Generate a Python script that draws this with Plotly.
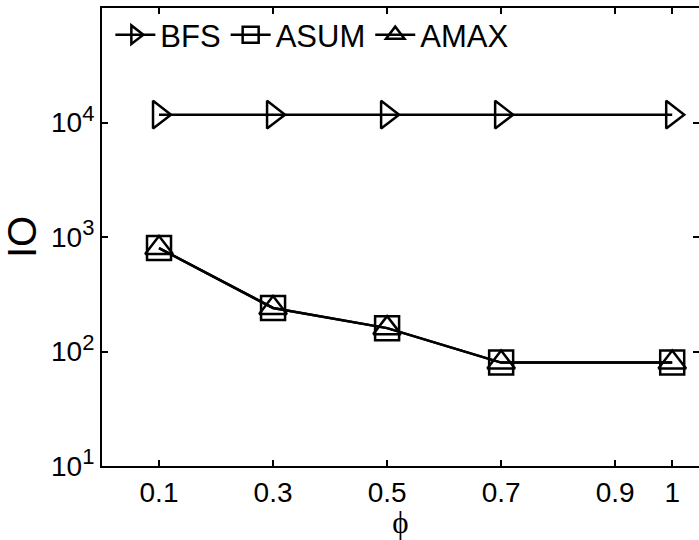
import plotly.graph_objects as go

# Data
phi = [0.1, 0.3, 0.5, 0.7, 1.0]
io_bfs = [11700, 11700, 11700, 11700, 11700]
io_asum = [800, 240, 160, 80, 80]
io_amax = [800, 240, 160, 80, 80]

x_tickvals = [0.1, 0.3, 0.5, 0.7, 0.9, 1.0]
x_ticktext = ["0.1", "0.3", "0.5", "0.7", "0.9", "1"]
y_tickvals = [10, 100, 1000, 10000]
y_exponents = ["1", "2", "3", "4"]

FONT = "Liberation Sans, Arial, sans-serif"
LW = 2.5
MS = 24

y_ticktext = ["10<sup><span style='font-size:22px'>%s</span></sup>" % e for e in y_exponents]

fig = go.Figure()

series = [
    ("BFS", io_bfs, "triangle-right-open"),
    ("ASUM", io_asum, "square-open"),
    ("AMAX", io_amax, "triangle-up-open"),
]
for name, vals, sym in series:
    fig.add_trace(go.Scatter(
        x=phi, y=vals, name=name, mode="lines+markers",
        line=dict(color="black", width=LW),
        marker=dict(symbol=sym, size=MS, color="black",
                    line=dict(color="black", width=LW)),
        cliponaxis=False,
    ))

# invisible trace carrying the right-hand tick axis
fig.add_trace(go.Scatter(
    x=phi, y=io_bfs, yaxis="y2", mode="lines",
    line=dict(width=0, color="rgba(0,0,0,0)"),
    showlegend=False, hoverinfo="skip",
))

fig.update_layout(
    width=699, height=540,
    margin=dict(l=102, r=0, t=8, b=74),
    paper_bgcolor="white", plot_bgcolor="white",
    font=dict(family=FONT, color="black", size=28),
    showlegend=True,
    legend=dict(
        orientation="h", x=0.014, y=1.0, xanchor="left", yanchor="top",
        font=dict(size=31, family=FONT), bgcolor="rgba(0,0,0,0)",
        borderwidth=0, itemwidth=40, tracegroupgap=0,
    ),
    xaxis=dict(
        range=[0, 1.047], tickvals=x_tickvals, ticktext=x_ticktext,
        ticks="inside", ticklen=6, tickwidth=1.5, tickcolor="black",
        showline=True, linecolor="black", linewidth=2, mirror="ticks",
        showgrid=False, zeroline=False,
        tickfont=dict(size=28, family=FONT),
        title=dict(text="\u03d5", font=dict(size=31, family="Liberation Serif, Times New Roman, serif"),
                   standoff=11),
    ),
    yaxis=dict(
        type="log", range=[1, 5], tickvals=y_tickvals, ticktext=y_ticktext,
        ticks="inside", ticklen=6, tickwidth=1.5, tickcolor="black",
        showline=True, linecolor="black", linewidth=2, mirror=False,
        showgrid=False, zeroline=False,
        tickfont=dict(size=28, family=FONT),
        title=dict(text="IO", font=dict(size=40, family=FONT), standoff=14),
    ),
    yaxis2=dict(
        type="log", range=[1, 5], tickvals=y_tickvals, overlaying="y", side="right",
        ticks="inside", ticklen=6, tickwidth=1.5, tickcolor="black",
        showticklabels=False, showline=False, showgrid=False, zeroline=False,
    ),
)

fig.write_html("out.html")
